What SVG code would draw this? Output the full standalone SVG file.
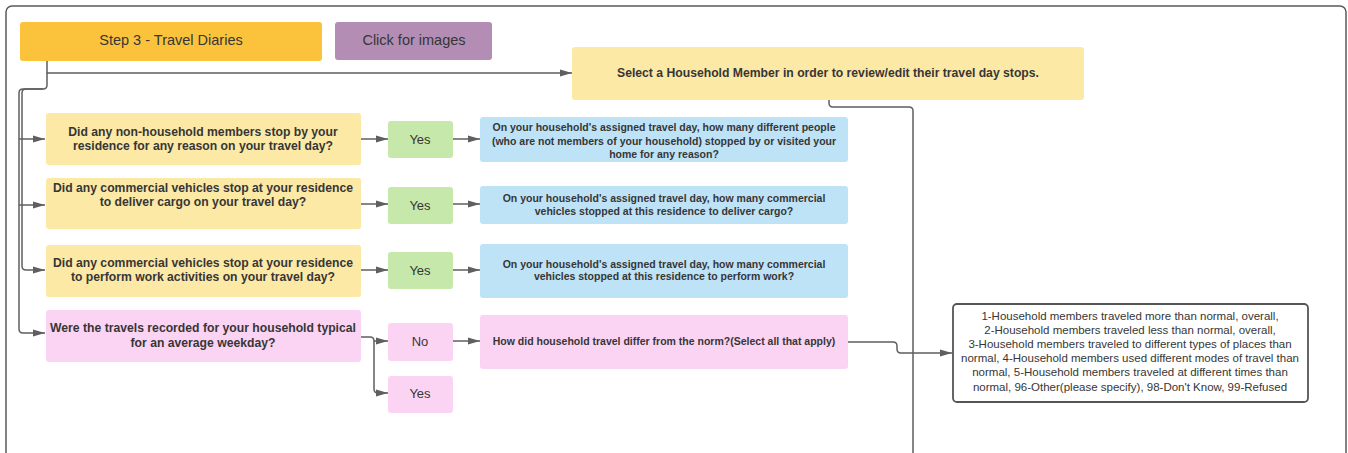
<svg xmlns="http://www.w3.org/2000/svg" width="1348" height="453" viewBox="0 0 1348 453">
  <style>
    .frame { fill: #ffffff; stroke: #5a5a5a; stroke-width: 1.5; }
    .edge { fill: none; stroke: #5f5f5f; stroke-width: 1.5; }
    .t { font-family: "Liberation Sans", Arial, sans-serif; fill: #363636; text-anchor: middle; }
    .b { font-weight: bold; }
    .step { fill: #fbc33c; }
    .link { fill: #b48db5; }
    .ylw { fill: #fde9a6; }
    .grn { fill: #c6e8aa; }
    .blu { fill: #bfe3f6; }
    .pnk { fill: #fbd4f4; }
    .opt { fill: #ffffff; stroke: #555555; stroke-width: 1.8; }
  </style>
  <defs>
    <marker id="arrow" markerUnits="userSpaceOnUse" markerWidth="13" markerHeight="9" refX="12" refY="4" orient="auto">
      <path d="M0,0.5 L12,4 L0,7.5 z" fill="#5f5f5f"/>
    </marker>
  </defs>

  <rect width="1348" height="453" fill="#ffffff"/>
  <!-- page frame, bottom edge runs off the sheet -->
  <rect class="frame" x="6" y="6" width="1340" height="460" rx="6"/>

  <g id="connectors">
    <path class="edge" d="M47,61 V73 H572" marker-end="url(#arrow)"/>
    <path class="edge" d="M47,73 V85 Q47,89 43,89 H23 Q19,89 19,93 V329 Q19,333 23,333 H45" marker-end="url(#arrow)"/>
    <path class="edge" d="M43,89 H26 Q22,89 22,93 V266 Q22,270 26,270 H45" marker-end="url(#arrow)"/>
    <path class="edge" d="M19,139 H45" marker-end="url(#arrow)"/>
    <path class="edge" d="M19,205 H45" marker-end="url(#arrow)"/>
    <path class="edge" d="M361,139 H388" marker-end="url(#arrow)"/>
    <path class="edge" d="M361,204 H388" marker-end="url(#arrow)"/>
    <path class="edge" d="M361,270 H388" marker-end="url(#arrow)"/>
    <path class="edge" d="M453,139 H480" marker-end="url(#arrow)"/>
    <path class="edge" d="M453,204 H480" marker-end="url(#arrow)"/>
    <path class="edge" d="M453,270 H480" marker-end="url(#arrow)"/>
    <path class="edge" d="M361,337 H370 Q374,337 374,341 H388" marker-end="url(#arrow)"/>
    <path class="edge" d="M374,341 V389 Q374,393 378,393 H388" marker-end="url(#arrow)"/>
    <path class="edge" d="M453,341 H480" marker-end="url(#arrow)"/>
    <path class="edge" d="M848,342 H893 Q897,342 897,346 V349 Q897,353 901,353 H952" marker-end="url(#arrow)"/>
    <path class="edge" d="M829,100 V103 Q829,107 833,107 H909 Q913,107 913,111 V460"/>
  </g>

  <g id="step3">
    <rect class="step" x="20" y="22" width="302" height="39" rx="3"/>
    <text class="t" x="171" y="45" font-size="14.5">Step 3 - Travel Diaries</text>
  </g>
  <g id="images">
    <rect class="link" x="335" y="22" width="157" height="38" rx="3"/>
    <text class="t" x="414" y="45" font-size="14.5">Click for images</text>
  </g>
  <g id="select-member">
    <rect class="ylw" x="572" y="47" width="512" height="53" rx="3"/>
    <text class="t b" x="828" y="77" font-size="12.2">Select a Household Member in order to review/edit their travel day stops.</text>
  </g>

  <g id="q-visitors">
    <rect class="ylw" x="46" y="113" width="315" height="52" rx="3"/>
    <text class="t b" x="203" y="136" font-size="12.2">Did any non-household members stop by your</text>
    <text class="t b" x="203" y="150" font-size="12.2">residence for any reason on your travel day?</text>
  </g>
  <g id="q-cargo">
    <rect class="ylw" x="46" y="178" width="315" height="51" rx="3"/>
    <text class="t b" x="203" y="192" font-size="12.2">Did any commercial vehicles stop at your residence</text>
    <text class="t b" x="203" y="206" font-size="12.2">to deliver cargo on your travel day?</text>
  </g>
  <g id="q-work">
    <rect class="ylw" x="46" y="245" width="315" height="52" rx="3"/>
    <text class="t b" x="203" y="267" font-size="12.2">Did any commercial vehicles stop at your residence</text>
    <text class="t b" x="203" y="281" font-size="12.2">to perform work activities on your travel day?</text>
  </g>
  <g id="q-typical">
    <rect class="pnk" x="46" y="310" width="315" height="52" rx="3"/>
    <text class="t b" x="203" y="332" font-size="12.2">Were the travels recorded for your household typical</text>
    <text class="t b" x="203" y="347" font-size="12.2">for an average weekday?</text>
  </g>

  <g id="yes-visitors">
    <rect class="grn" x="388" y="121" width="65" height="37" rx="3"/>
    <text class="t" x="420" y="144" font-size="13">Yes</text>
  </g>
  <g id="yes-cargo">
    <rect class="grn" x="388" y="187" width="65" height="37" rx="3"/>
    <text class="t" x="420" y="210" font-size="13">Yes</text>
  </g>
  <g id="yes-work">
    <rect class="grn" x="388" y="252" width="65" height="37" rx="3"/>
    <text class="t" x="420" y="275" font-size="13">Yes</text>
  </g>
  <g id="no-typical">
    <rect class="pnk" x="388" y="323" width="65" height="38" rx="3"/>
    <text class="t" x="420" y="346" font-size="13">No</text>
  </g>
  <g id="yes-typical">
    <rect class="pnk" x="388" y="376" width="65" height="37" rx="3"/>
    <text class="t" x="420" y="398" font-size="13">Yes</text>
  </g>

  <g id="count-visitors">
    <rect class="blu" x="480" y="117" width="368" height="45" rx="3"/>
    <text class="t b" x="664" y="131" font-size="10.5">On your household's assigned travel day, how many different people</text>
    <text class="t b" x="664" y="145" font-size="10.5">(who are not members of your household) stopped by or visited your</text>
    <text class="t b" x="664" y="158" font-size="10.5">home for any reason?</text>
  </g>
  <g id="count-cargo">
    <rect class="blu" x="480" y="186" width="368" height="38" rx="3"/>
    <text class="t b" x="664" y="202" font-size="10.5">On your household's assigned travel day, how many commercial</text>
    <text class="t b" x="664" y="215" font-size="10.5">vehicles stopped at this residence to deliver cargo?</text>
  </g>
  <g id="count-work">
    <rect class="blu" x="480" y="244" width="368" height="54" rx="3"/>
    <text class="t b" x="664" y="268" font-size="10.5">On your household's assigned travel day, how many commercial</text>
    <text class="t b" x="664" y="280" font-size="10.5">vehicles stopped at this residence to perform work?</text>
  </g>
  <g id="how-differ">
    <rect class="pnk" x="480" y="315" width="368" height="54" rx="3"/>
    <text class="t b" x="664" y="345" font-size="10.5">How did household travel differ from the norm?(Select all that apply)</text>
  </g>

  <g id="differ-options">
    <rect class="opt" x="953" y="304" width="355" height="98" rx="4"/>
    <text class="t" x="1130" y="320" font-size="11.5">1-Household members traveled more than normal, overall,</text>
    <text class="t" x="1130" y="334" font-size="11.5">2-Household members traveled less than normal, overall,</text>
    <text class="t" x="1130" y="348" font-size="11.5">3-Household members traveled to different types of places than</text>
    <text class="t" x="1130" y="362" font-size="11.5">normal, 4-Household members used different modes of travel than</text>
    <text class="t" x="1130" y="376" font-size="11.5">normal, 5-Household members traveled at different times than</text>
    <text class="t" x="1130" y="391" font-size="11.5">normal, 96-Other(please specify), 98-Don't Know, 99-Refused</text>
  </g>
</svg>
